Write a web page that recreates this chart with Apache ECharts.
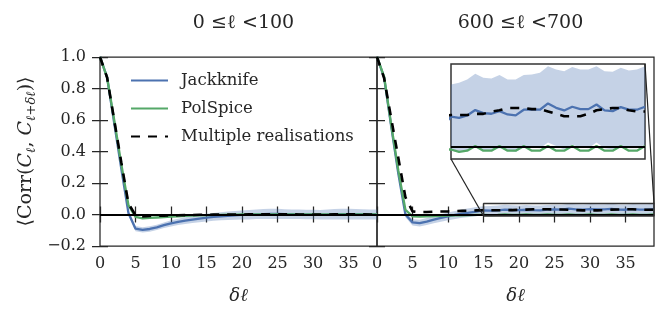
<!DOCTYPE html>
<html><head><meta charset="utf-8">
<script src="https://cdn.jsdelivr.net/npm/echarts@6/dist/echarts.min.js"></script>
<style>html,body{margin:0;padding:0;background:#fff}#c{width:665px;height:318px}</style>
</head><body><div id="c"></div>
<script>
// ---------- data ----------
const dl = [0,1,2,3,4,5,6,7,8,9,10,11,12,13,14,15,16,17,18,19,20,21,22,23,24,25,26,27,28,29,30,31,32,33,34,35,36,37,38,39];
const xTicks = [0,5,10,15,20,25,30,35];
const yTicks = [-0.2,0,0.2,0.4,0.6,0.8,1.0];
const panelTitles = ['0 \u2264\u2113 <100', '600 \u2264\u2113 <700'];
const seriesNames = ['Jackknife', 'PolSpice', 'Multiple realisations'];
const insetX = [15, 39];
const insetY = [-0.01, 0.07];

// left panel: 0 <= l < 100
const jackL   = [1.0,0.87,0.58,0.29,0.01,-0.09,-0.098,-0.092,-0.082,-0.068,-0.056,-0.047,-0.039,-0.032,-0.026,-0.02,-0.015,-0.011,-0.008,-0.005,-0.003,-0.001,0.001,0.003,0.004,0.004,0.003,0.002,0.001,0.0,0.0,-0.001,0.0,0.002,0.003,0.003,0.002,0.001,0.0,0.0];
const jackLoL = [1.0,0.86,0.565,0.275,-0.005,-0.107,-0.115,-0.109,-0.099,-0.086,-0.076,-0.067,-0.060,-0.054,-0.049,-0.044,-0.040,-0.037,-0.035,-0.033,-0.032,-0.031,-0.029,-0.029,-0.029,-0.028,-0.028,-0.028,-0.029,-0.030,-0.030,-0.031,-0.031,-0.031,-0.031,-0.031,-0.031,-0.031,-0.032,-0.032];
const jackHiL = [1.0,0.88,0.595,0.305,0.025,-0.073,-0.081,-0.075,-0.065,-0.050,-0.036,-0.027,-0.018,-0.010,-0.003,0.004,0.010,0.015,0.019,0.023,0.026,0.029,0.032,0.035,0.037,0.036,0.034,0.032,0.031,0.030,0.030,0.029,0.031,0.035,0.037,0.037,0.035,0.033,0.032,0.032];
const polL    = [1.0,0.87,0.6,0.32,0.06,-0.015,-0.024,-0.022,-0.019,-0.016,-0.013,-0.011,-0.009,-0.007,-0.005,-0.004,-0.003,-0.002,-0.001,-0.001,0.0,0.0,0.0,0.0,0.001,0.001,0.0,0.0,0.0,0.0,0.0,0.0,0.0,0.0,0.001,0.001,0.0,0.0,0.0,0.0];
const multL   = [1.0,0.87,0.6,0.33,0.07,-0.005,-0.012,-0.01,-0.008,-0.007,-0.006,-0.005,-0.004,-0.003,-0.002,-0.002,-0.001,-0.001,0.0,0.0,0.0,0.001,0.001,0.002,0.002,0.002,0.001,0.001,0.0,0.0,0.0,0.0,0.0,0.001,0.002,0.002,0.001,0.001,0.0,0.0];

// right panel: 600 <= l < 700
const jackR   = [1.0,0.87,0.56,0.26,0.0,-0.05,-0.055,-0.045,-0.033,-0.022,-0.012,-0.003,0.006,0.012,0.018,0.0256,0.0247,0.0267,0.0312,0.0286,0.0281,0.0303,0.0275,0.0267,0.0315,0.0317,0.0315,0.0368,0.0331,0.0309,0.0340,0.0320,0.0320,0.0359,0.0309,0.0303,0.0337,0.0315,0.0315,0.0340];
const jackLoR = [1.0,0.86,0.545,0.245,-0.018,-0.07,-0.076,-0.067,-0.056,-0.046,-0.037,-0.029,-0.021,-0.016,-0.011,-0.003,-0.004,-0.003,0.0,-0.003,-0.003,-0.001,-0.003,-0.004,0.0,0.0,-0.001,0.004,0.001,-0.002,0.002,0.0,-0.001,0.004,-0.001,-0.002,0.001,-0.001,-0.001,0.002];
const jackHiR = [1.0,0.88,0.575,0.275,0.018,-0.03,-0.034,-0.023,-0.010,0.002,0.013,0.023,0.033,0.040,0.047,0.0528,0.0542,0.0570,0.0618,0.0584,0.0578,0.0607,0.0570,0.0570,0.0607,0.0612,0.0626,0.0682,0.0654,0.0640,0.0674,0.0654,0.0654,0.0682,0.0640,0.0635,0.0668,0.0646,0.0654,0.0682];
const polR    = [1.0,0.876,0.57,0.28,0.03,-0.012,-0.013,-0.012,-0.01,-0.008,-0.007,-0.006,-0.005,-0.004,-0.002,-0.002,-0.004,-0.003,0.001,-0.003,-0.003,0.001,-0.003,-0.003,0.001,-0.003,-0.003,0.001,-0.003,-0.003,0.001,-0.003,-0.003,0.001,-0.003,-0.003,0.001,-0.003,-0.003,0.001];
const multR   = [1.0,0.866,0.61,0.36,0.11,0.02,0.015,0.016,0.018,0.019,0.020,0.022,0.023,0.024,0.026,0.027,0.027,0.027,0.028,0.028,0.030,0.031,0.033,0.033,0.033,0.032,0.032,0.030,0.028,0.026,0.026,0.026,0.028,0.031,0.032,0.033,0.033,0.031,0.030,0.030];

// ---------- styling ----------
const FONT = 'DejaVu Serif';
const INK = '#262626';
const BLUE = '#4C72B0', GREEN = '#55A868', BAND = 'rgba(76,114,176,0.32)';

const pts = arr => dl.map((x, i) => [x, arr[i]]);
const yFmt = v => (v < 0 ? '\u2212' : '') + Math.abs(v).toFixed(1);

const grids = [
  {left: 100, top: 57, width: 277, height: 189},
  {left: 377, top: 57, width: 277, height: 189},
  {left: 451, top: 64, width: 194, height: 95}
];

function mainX(gi, pos, labels) {
  return {
    type: 'value', gridIndex: gi, position: pos, min: dl[0], max: dl[dl.length - 1],
    axisLine: {show: false}, splitLine: {show: false},
    axisTick: {show: true, length: 8, customValues: xTicks, lineStyle: {color: INK, width: 1.25}},
    axisLabel: {show: labels, customValues: xTicks, margin: 10, color: INK, fontFamily: FONT, fontSize: 16},
    name: labels ? '\u03b4\u2113' : '', nameLocation: 'middle', nameGap: 41,
    nameTextStyle: {fontFamily: FONT, fontStyle: 'italic', fontSize: 18, color: INK}
  };
}
function mainY(gi, pos, labels, withName) {
  return {
    type: 'value', gridIndex: gi, position: pos, min: yTicks[0], max: yTicks[yTicks.length - 1],
    interval: yTicks[1] - yTicks[0],
    axisLine: {show: false}, splitLine: {show: false},
    axisTick: {show: true, length: 8, lineStyle: {color: INK, width: 1.25}},
    axisLabel: {show: labels, margin: 14, color: INK, fontFamily: FONT, fontSize: 16, formatter: yFmt},
    name: withName ? '{a|\u27e8Corr(}{i|C}{s|\u2113}{a|, }{i|C}{s|\u2113+\u03b4\u2113}{a|)\u27e9}' : '',
    nameLocation: 'middle', nameGap: 62, nameRotate: 90,
    nameTextStyle: {
      color: INK, fontFamily: FONT, fontSize: 19,
      rich: {
        a: {fontFamily: FONT, fontSize: 19, lineHeight: 24, color: INK},
        i: {fontFamily: FONT, fontSize: 19, fontStyle: 'italic', lineHeight: 24, color: INK},
        s: {fontFamily: FONT, fontSize: 13, fontStyle: 'italic', verticalAlign: 'bottom', lineHeight: 14, color: INK}
      }
    }
  };
}

function bandSeries(xi, yi, lo, hi) {
  return {
    type: 'custom', xAxisIndex: xi, yAxisIndex: yi, silent: true, z: 1,
    data: dl.map((x, i) => [x, lo[i], hi[i]]),
    encode: {x: 0, y: [1, 2]},
    renderItem: function (params, api) {
      if (params.dataIndex !== 0) return null;
      const top = dl.map((x, i) => api.coord([x, hi[i]]));
      const bot = dl.map((x, i) => api.coord([x, lo[i]])).reverse();
      const cs = params.coordSys;
      return {
        type: 'polygon',
        shape: {points: top.concat(bot)},
        style: {fill: BAND, stroke: null},
        clipPath: {type: 'rect', shape: {x: cs.x, y: cs.y, width: cs.width, height: cs.height}}
      };
    }
  };
}

function panelSeries(xi, yi, lo, hi, jk, pl, mr, tag) {
  const base = {type: 'line', xAxisIndex: xi, yAxisIndex: yi, symbol: 'none', showSymbol: false, silent: true, animation: false};
  return [
    bandSeries(xi, yi, lo, hi),
    Object.assign({}, base, {name: 'zero' + tag, data: [], z: 2,
      markLine: {silent: true, symbol: 'none', label: {show: false}, animation: false,
        lineStyle: {color: '#000', width: 2, type: 'solid'}, data: [{yAxis: 0}]}}),
    Object.assign({}, base, {name: seriesNames[0], data: pts(jk), lineStyle: {color: BLUE, width: 2.3}, itemStyle: {color: BLUE}, z: 3}),
    Object.assign({}, base, {name: seriesNames[1], data: pts(pl), lineStyle: {color: GREEN, width: 2.3}, itemStyle: {color: GREEN}, z: 4}),
    Object.assign({}, base, {name: seriesNames[2], data: pts(mr), lineStyle: {color: '#000', width: 2.6, type: [9, 8]}, itemStyle: {color: '#000'}, z: 5})
  ];
}

const chart = echarts.init(document.getElementById('c'), null, {renderer: 'canvas'});

const rectData = [[insetX[0], insetY[0]], [insetX[1], insetY[0]], [insetX[1], insetY[1]], [insetX[0], insetY[1]], [insetX[0], insetY[0]]];

const option = {
  animation: false,
  backgroundColor: '#fff',
  title: [
    {text: panelTitles[0], left: grids[0].left + grids[0].width / 2, top: 9, textAlign: 'center',
     textStyle: {fontFamily: FONT, fontWeight: 'normal', fontSize: 19, color: INK}},
    {text: panelTitles[1], left: grids[1].left + grids[1].width / 2, top: 9, textAlign: 'center',
     textStyle: {fontFamily: FONT, fontWeight: 'normal', fontSize: 19, color: INK}}
  ],
  legend: {
    data: seriesNames, orient: 'vertical', left: 130, top: 72, padding: 0,
    itemWidth: 37, itemHeight: 14, itemGap: 11,
    itemStyle: {opacity: 0},
    textStyle: {fontFamily: FONT, fontSize: 16.5, color: INK, lineHeight: 14, padding: [0, 0, 0, 8]}
  },
  grid: [
    Object.assign({show: true, borderColor: INK, borderWidth: 1.25, backgroundColor: 'transparent'}, grids[0]),
    Object.assign({show: true, borderColor: INK, borderWidth: 1.25, backgroundColor: 'transparent'}, grids[1]),
    Object.assign({show: true, borderColor: '#333', borderWidth: 1.5, backgroundColor: '#fff'}, grids[2])
  ],
  xAxis: [
    mainX(0, 'bottom', true), mainX(0, 'top', false),
    mainX(1, 'bottom', true), mainX(1, 'top', false),
    {type: 'value', gridIndex: 2, min: insetX[0], max: insetX[1], show: false}
  ],
  yAxis: [
    mainY(0, 'left', true, true), mainY(0, 'right', false, false),
    mainY(1, 'left', false, false), mainY(1, 'right', false, false),
    {type: 'value', gridIndex: 2, min: insetY[0], max: insetY[1], show: false}
  ],
  series: [].concat(
    panelSeries(0, 0, jackLoL, jackHiL, jackL, polL, multL, 'L'),
    panelSeries(2, 2, jackLoR, jackHiR, jackR, polR, multR, 'R'),
    panelSeries(4, 4, jackLoR, jackHiR, jackR, polR, multR, 'I'),
    [{type: 'line', name: 'insetRect', xAxisIndex: 2, yAxisIndex: 2, data: rectData, symbol: 'none', silent: true,
      clip: false, lineStyle: {color: '#333', width: 1.5}, z: 6}]
  )
};
chart.setOption(option);

const c1 = chart.convertToPixel({xAxisIndex: 4, yAxisIndex: 4}, [insetX[0], insetY[0]]);
const d1 = chart.convertToPixel({xAxisIndex: 2, yAxisIndex: 2}, [insetX[0], insetY[0]]);
const c2 = chart.convertToPixel({xAxisIndex: 4, yAxisIndex: 4}, [insetX[1], insetY[1]]);
const d2 = chart.convertToPixel({xAxisIndex: 2, yAxisIndex: 2}, [insetX[1], insetY[1]]);
chart.setOption({graphic: [
  {type: 'line', shape: {x1: c1[0], y1: c1[1], x2: d1[0], y2: d1[1]}, style: {stroke: '#222', lineWidth: 1.2}, z: 100, silent: true},
  {type: 'line', shape: {x1: c2[0], y1: c2[1], x2: d2[0], y2: d2[1]}, style: {stroke: '#222', lineWidth: 1.2}, z: 100, silent: true}
]});
</script>
</body></html>
